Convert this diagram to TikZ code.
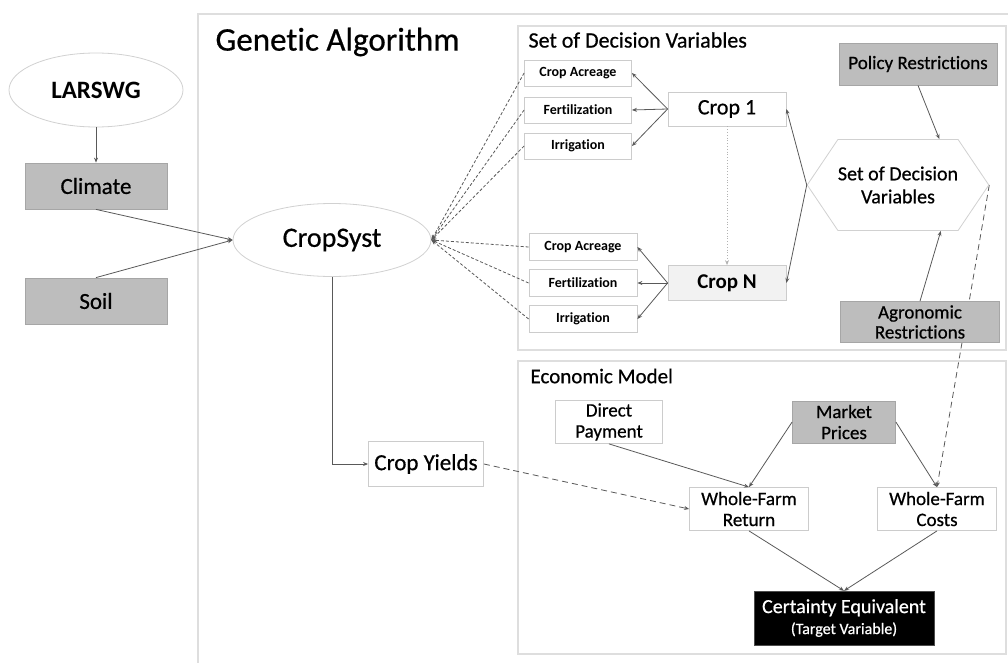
\documentclass[tikz,border=0pt]{standalone}
\usepackage{fontspec}
\setmainfont{Carlito}[Ligatures={NoCommon}, UprightFeatures={FakeBold=0.6}]
\usepackage{tikz}
\usetikzlibrary{arrows.meta,shapes.geometric,shapes.symbols,positioning,backgrounds}

\begin{document}
\begin{tikzpicture}[
    x=1pt, y=-1pt,
    frame/.style={draw=black!13, line width=1.6pt},
    conn/.style={-{Stealth[length=5pt,width=4pt]}, draw=black!65, line width=0.8pt},
    dconn/.style={conn, dashed},
    whitebox/.style={draw=black!20, fill=white, line width=0.8pt, align=center, inner sep=1pt},
    greybox/.style={draw=black!35, fill=black!26, line width=0.8pt, align=center, inner sep=1pt},
    smallbox/.style={whitebox, minimum width=107pt, minimum height=26pt, font=\bfseries\fontsize{14}{15}\selectfont},
    midbox/.style={whitebox, minimum width=119pt, minimum height=43pt, font=\fontsize{19}{21}\selectfont},
    oval/.style={ellipse, draw=black!18, fill=white, line width=0.8pt}
  ]
    \useasboundingbox (0,0) rectangle (1008,663);

    % Frames
    \draw[frame] (1010,14) -- (198,14) -- (198,665);
    \draw[frame] (518,26) rectangle (1006,350);
    \draw[frame] (518,361) rectangle (1006,654);
    \node[anchor=west, font=\fontsize{33}{35}\selectfont] (gatitle) at (212,42) {Genetic Algorithm};
    \node[anchor=west, font=\fontsize{22}{24}\selectfont] (sdvtitle) at (525,40) {Set of Decision Variables};
    \node[anchor=west, font=\fontsize{21}{23}\selectfont] (emtitle) at (527,376) {Economic Model};

    % Inputs
    \node[oval, minimum width=174pt, minimum height=74pt, font=\bfseries\fontsize{25}{27}\selectfont] (larswg) at (96,90) {LARSWG};
    \node[greybox, minimum width=142pt, minimum height=46pt, font=\fontsize{23}{25}\selectfont] (climate) at (96,186) {Climate};
    \node[greybox, minimum width=142pt, minimum height=46pt, font=\fontsize{23}{25}\selectfont] (soil) at (96,301) {Soil};
    \node[oval, minimum width=198pt, minimum height=73pt, font=\fontsize{28}{30}\selectfont] (cropsyst) at (332,240) {CropSyst};

    % Decision variables
    \node[smallbox] (acr1) at (578,73) {Crop Acreage};
    \node[smallbox] (fert1) at (578,110) {Fertilization};
    \node[smallbox] (irr1) at (578,146) {Irrigation};
    \node[smallbox, minimum width=108pt, minimum height=27pt] (acr2) at (583,247) {Crop Acreage};
    \node[smallbox, minimum width=108pt, minimum height=27pt] (fert2) at (583,283) {Fertilization};
    \node[smallbox, minimum width=108pt, minimum height=27pt] (irr2) at (583,319) {Irrigation};
    \node[whitebox, minimum width=118pt, minimum height=34pt, font=\fontsize{22}{24}\selectfont] (crop1) at (727,109) {Crop 1};
    \node[whitebox, fill=black!5, minimum width=118pt, minimum height=35pt, font=\bfseries\fontsize{21}{23}\selectfont] (cropn) at (727,283) {Crop N};
    \node[signal, signal to=east and west, signal pointer angle=112, draw=black!18, fill=white, line width=0.8pt,
          minimum width=170pt, minimum height=91pt, inner sep=0pt, align=center, font=\fontsize{20}{23}\selectfont]
          (setdv) at (898,185) {Set of Decision\\Variables};
    \node[greybox, minimum width=158pt, minimum height=42pt, font=\fontsize{19}{21}\selectfont] (policy) at (918,64) {Policy Restrictions};
    \node[greybox, minimum width=159pt, minimum height=41pt, font=\fontsize{19}{20}\selectfont] (agro) at (920,322) {Agronomic\\Restrictions};

    % Economic model
    \node[whitebox, minimum width=115pt, minimum height=45pt, font=\fontsize{23}{25}\selectfont] (yields) at (426,464) {Crop Yields};
    \node[midbox, minimum width=107pt] (direct) at (609,422) {Direct\\Payment};
    \node[greybox, minimum width=103pt, minimum height=42pt, font=\fontsize{19}{21}\selectfont] (market) at (844,422) {Market\\Prices};
    \node[midbox] (wfreturn) at (749,509) {Whole-Farm\\Return};
    \node[midbox] (wfcosts) at (937,509) {Whole-Farm\\Costs};
    \node[draw=black!70, fill=black, text=white, minimum width=180pt, minimum height=54pt, align=center, inner sep=1pt,
          font=\fontsize{20}{21}\selectfont] (certainty) at (844,618) {Certainty Equivalent\\{\fontsize{16}{17}\selectfont(Target Variable)}};

    % Links
    \draw[conn] (larswg) -- (climate);
    \draw[conn] (climate.south) -- (cropsyst.west);
    \draw[conn] (soil.north) -- (cropsyst.west);
    \foreach \n in {acr1,fert1,irr1,acr2,fert2,irr2}
      \draw[dconn, dash pattern=on 3pt off 2pt] (\n.west) -- (cropsyst.east);
    \foreach \n in {acr1,fert1,irr1}
      \draw[conn] (crop1.west) -- (\n.east);
    \foreach \n in {acr2,fert2,irr2}
      \draw[conn] (cropn.west) -- (\n.east);
    \draw[conn, draw=black!30, dotted] (crop1.south) -- (cropn.north);
    \draw[conn] (setdv.west) -- (crop1.east);
    \draw[conn] (setdv.west) -- (cropn.east);
    \draw[conn] (policy.south) -- (setdv.48);
    \draw[conn] (agro.north) -- (setdv.-47);
    \begin{pgfonlayer}{background}
      \draw[dconn, dash pattern=on 6pt off 4pt] (setdv.east) -- (wfcosts.north);
    \end{pgfonlayer}
    \draw[conn] (cropsyst.south) |- (yields.west);
    \draw[dconn, dash pattern=on 6pt off 4pt] (yields.east) -- (wfreturn.west);
    \draw[conn] (direct.south) -- (wfreturn.north);
    \draw[conn] (market.west) -- (wfreturn.north);
    \draw[conn] (market.east) -- (wfcosts.north);
    \draw[conn] (wfreturn.south) -- (certainty.north);
    \draw[conn] (wfcosts.south) -- (certainty.north);
  \end{tikzpicture}
\end{document}
